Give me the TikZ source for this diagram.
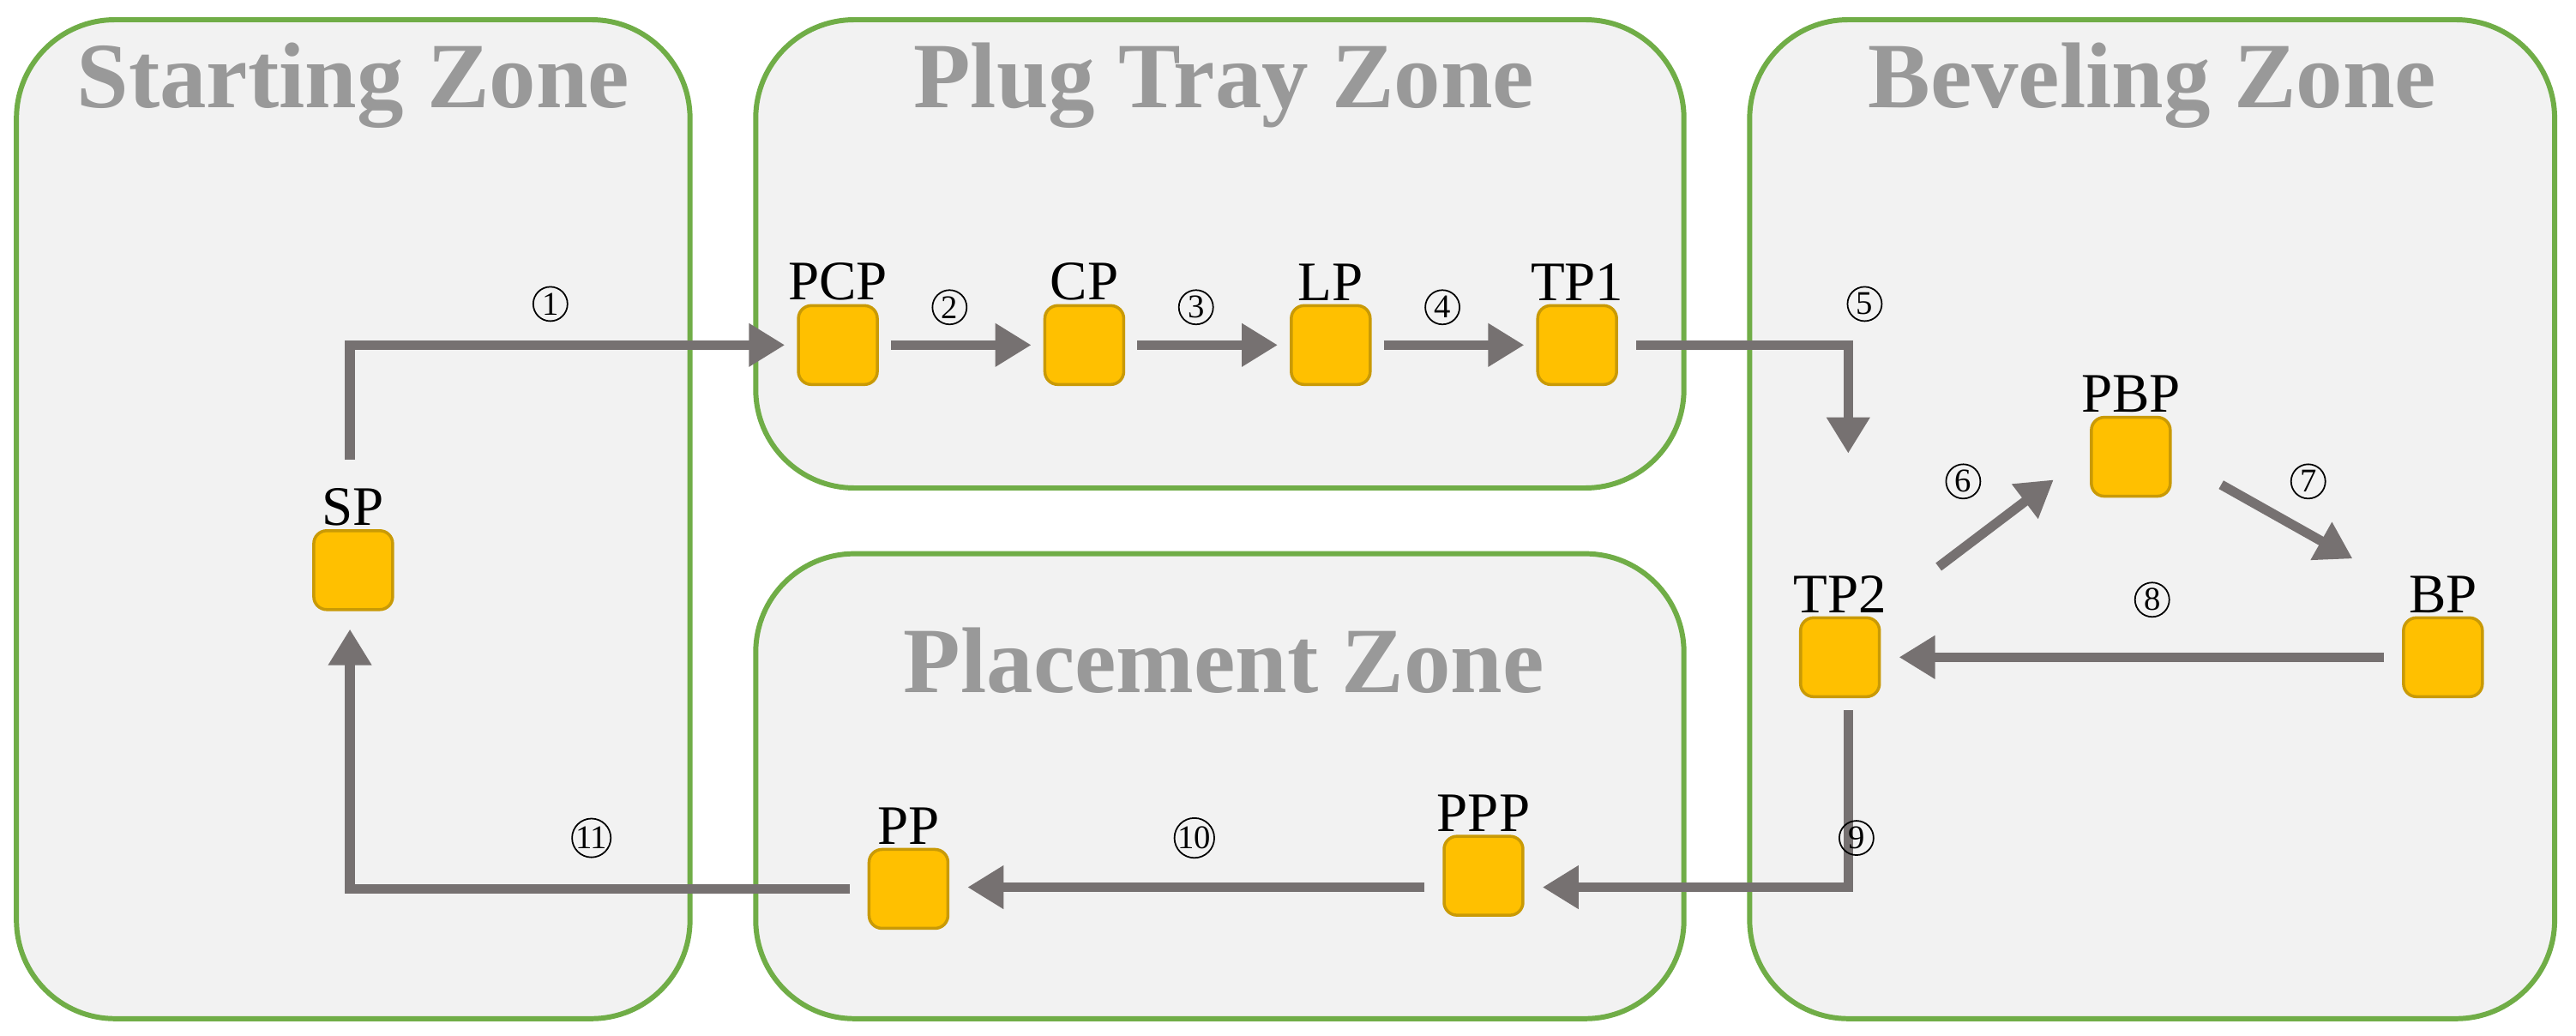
\documentclass[tikz,border=0pt]{standalone}
\usepackage{fontspec}
\setmainfont{Liberation Serif}
\usetikzlibrary{arrows.meta}
\begin{document}
\begin{tikzpicture}[x=0.01916cm,y=-0.01916cm,
  zone/.style={draw=zoneg, line width=1.7pt, fill=zonef, rounded corners=1.15cm},
  ztitle/.style={text=gray!80, font=\bfseries\fontsize{31}{34}\selectfont},
  pt/.style={draw=sqb, fill=sqf, line width=1pt, rounded corners=0.15cm, minimum size=0.92cm, inner sep=0pt,
     label={[font=\fontsize{18.5}{20}\selectfont, inner sep=1pt]above:#1}},
  arr/.style={draw=arrg, line width=3.2pt, -{Triangle[length=0.42cm,width=0.48cm]}},
  num/.style={circle, draw, line width=0.5pt, inner sep=0pt, minimum size=0.4cm, font=\fontsize{11}{12}\selectfont}]
\definecolor{zoneg}{HTML}{70AD47}
\definecolor{zonef}{HTML}{F2F2F2}
\definecolor{sqf}{HTML}{FFC000}
\definecolor{sqb}{HTML}{C99A06}
\definecolor{arrg}{HTML}{767171}
\useasboundingbox (0,0) rectangle (1568,630.5);
\path[zone] (10,12) rectangle (420,620);
\path[zone] (460,12) rectangle (1025,297);
\path[zone] (460,337) rectangle (1025,620);
\path[zone] (1065,12) rectangle (1555,620);
\node[ztitle] (t1) at (215,52) {Starting Zone};
\node[ztitle] (t2) at (745,52) {Plug Tray Zone};
\node[ztitle] (t3) at (745,402) {Placement Zone};
\node[ztitle] (t4) at (1310,52) {Beveling Zone};
\node[pt=SP] (SP) at (215,347) {};
\node[pt=PCP] (PCP) at (510,210) {};
\node[pt=CP] (CP) at (660,210) {};
\node[pt=LP] (LP) at (810,210) {};
\node[pt=TP1] (TP1) at (960,210) {};
\node[pt=PBP] (PBP) at (1297,278) {};
\node[pt=TP2] (TP2) at (1120,400) {};
\node[pt=BP] (BP) at (1487,400) {};
\node[pt=PPP] (PPP) at (903,533) {};
\node[pt=PP] (PP) at (553,541) {};
\coordinate (s1) at (213,280);
\coordinate (c5) at (1125,210);
\coordinate (c9) at (1125,540);
\coordinate (c6a) at (1180,345);
\coordinate (c6b) at (1250,292);
\coordinate (c7a) at (1352,295);
\coordinate (c7b) at (1432,340);
\draw[arr] (s1) |- ([xshift=-4pt]PCP.west);
\draw[arr, shorten <=4pt, shorten >=4pt] (PCP) -- (CP);
\draw[arr, shorten <=4pt, shorten >=4pt] (CP) -- (LP);
\draw[arr, shorten <=4pt, shorten >=4pt] (LP) -- (TP1);
\draw[arr, shorten <=6pt] (TP1.east) -| ([yshift=1.9cm]TP2.north -| c5);
\draw[arr] (c6a) -- (c6b);
\draw[arr] (c7a) -- (c7b);
\draw[arr, shorten <=6pt, shorten >=6pt] (BP.west) -- (TP2.east);
\draw[arr] ([yshift=-4pt]TP2.south -| c5) |- ([xshift=6pt]PPP.east |- c9);
\draw[arr, shorten <=6pt, shorten >=6pt] (PPP.west |- c9) -- (PP.east |- c9);
\draw[arr, shorten <=6pt, shorten >=6pt] (PP.west) -| (SP.south -| s1);
\node[num] (n1) at (335,185) {1};
\node[num] (n2) at (578,187) {2};
\node[num] (n3) at (728,187) {3};
\node[num] (n4) at (878,187) {4};
\node[num] (n5) at (1135,185) {5};
\node[num] (n6) at (1195,293) {6};
\node[num] (n7) at (1405,293) {7};
\node[num] (n8) at (1310,365) {8};
\node[num] (n9) at (1130,510) {9};
\node[num] (n10) at (727,510) {10};
\node[num] (n11) at (360,510) {11};
\end{tikzpicture}
\end{document}
